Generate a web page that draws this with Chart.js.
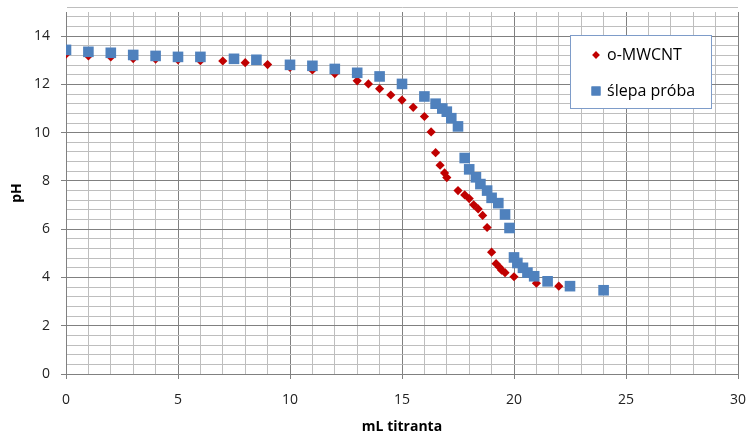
<!DOCTYPE html>
<html>
<head>
<meta charset="utf-8">
<script src="https://cdn.jsdelivr.net/npm/chart.js@4/dist/chart.umd.min.js"></script>
<style>
  html, body { margin: 0; padding: 0; background: #fff; }
  #wrap { position: relative; width: 749px; height: 434px; }
</style>
</head>
<body>
<div id="wrap"><canvas id="Titration-Chart"></canvas></div>
<script>
//-------------------------------------------------- Data
const seriesNames = ["o-MWCNT", "ślepa próba"];
const mwcntX = [0, 1, 2, 3, 4, 5, 6, 7, 8, 9, 10, 11, 12, 13, 13.5, 14, 14.5, 15, 15.5, 16, 16.3, 16.5, 16.7, 16.9, 17, 17.5, 17.8, 18, 18.2, 18.4, 18.6, 18.8, 19, 19.2, 19.35, 19.45, 19.6, 20, 21, 22];
const mwcntPH = [13.25, 13.18, 13.14, 13.07, 13.05, 13.02, 12.98, 12.97, 12.9, 12.82, 12.7, 12.6, 12.45, 12.15, 12.02, 11.82, 11.56, 11.35, 11.05, 10.67, 10.03, 9.17, 8.65, 8.33, 8.14, 7.6, 7.42, 7.27, 7.01, 6.84, 6.57, 6.07, 5.05, 4.57, 4.42, 4.3, 4.2, 4.03, 3.76, 3.64];
const blankX = [0, 1, 2, 3, 4, 5, 6, 7.5, 8.5, 10, 11, 12, 13, 14, 15, 16, 16.5, 16.8, 17, 17.2, 17.5, 17.8, 18, 18.3, 18.5, 18.8, 19, 19.3, 19.6, 19.8, 20, 20.15, 20.4, 20.6, 20.9, 21.5, 22.5, 24];
const blankPH = [13.43, 13.35, 13.31, 13.22, 13.18, 13.14, 13.14, 13.06, 13.02, 12.81, 12.77, 12.64, 12.48, 12.33, 12.02, 11.5, 11.2, 11.0, 10.87, 10.6, 10.26, 8.95, 8.48, 8.15, 7.87, 7.6, 7.3, 7.08, 6.61, 6.05, 4.83, 4.6, 4.4, 4.2, 4.05, 3.84, 3.64, 3.47];
const xTitle = "mL titranta";
const yTitle = "pH";
//^^^^^^^^^^^^^^^^^^^^^^^^^^^^^^^^^^^^^^^^^^^^^^^^^^ Data

const FONT = "'Open Sans', 'DejaVu Sans', sans-serif";
const MAJOR = "#808080";
const MINOR = "#bebebe";

const toPoints = (xs, ys) => xs.map((x, i) => ({x: x, y: ys[i]}));
const isMajor = (v, step) => Math.abs(v / step - Math.round(v / step)) < 1e-6;

// legend box drawn inside the plot like the spreadsheet one
const boxLegend = {
	id: "boxLegend",
	afterDraw(chart) {
		const ctx = chart.ctx;
		const left = 570, top = 35, w = 141, h = 73;
		ctx.save();
		ctx.fillStyle = "#fff";
		ctx.fillRect(left, top, w, h);
		ctx.strokeStyle = "#7e9cc9";
		ctx.lineWidth = 1;
		ctx.strokeRect(left + 0.5, top + 0.5, w, h);
		ctx.font = "16px " + FONT;
		ctx.textBaseline = "middle";
		chart.data.datasets.forEach((ds, i) => {
			const y = top + 20 + i * 36;
			ctx.fillStyle = ds.backgroundColor;
			ctx.beginPath();
			Chart.helpers.drawPoint(ctx, {pointStyle: ds.pointStyle, radius: ds.pointRadius * (ds.pointStyle == "rect" ? 0.85 : 0.8), borderWidth: 0}, 596, y);
			ctx.fill();
			ctx.fillStyle = "#000";
			ctx.fillText(ds.label, 607, y);
		});
		ctx.restore();
	}
};

function buildTicks(max, step) {
	let out = [];
	const n = Math.round(max / step);
	for (let i = 0; i <= n; i++) out.push({value: Math.round(i * step * 100) / 100});
	if (out[out.length - 1].value < max) out.push({value: max});
	return out;
}

// fixed box sizes, no extra label padding so the plot lands where the original one is
function fixBox(s, size) {
	if (s.isHorizontal()) s.height = size; else s.width = size;
	s.paddingTop = 0; s.paddingBottom = 0; s.paddingLeft = 0; s.paddingRight = 0;
}

new Chart(document.getElementById("Titration-Chart").getContext("2d"), {
	type: "scatter",
	data: {
		datasets: [
			{
				label: seriesNames[0],
				data: toPoints(mwcntX, mwcntPH),
				pointStyle: "rectRot",
				pointRadius: 4.6,
				backgroundColor: "#c00000",
				borderColor: "#c00000",
				borderWidth: 0,
				order: 1
			},
			{
				label: seriesNames[1],
				data: toPoints(blankX, blankPH),
				pointStyle: "rect",
				pointRadius: 7.5,
				backgroundColor: "#4f81bd",
				borderColor: "#4f81bd",
				borderWidth: 0,
				order: 0
			}
		]
	},
	options: {
		responsive: true,
		maintainAspectRatio: false,
		animation: false,
		layout: {padding: {left: 0, top: 12, right: 11, bottom: 0}},
		plugins: {legend: {display: false}, tooltip: {enabled: false}},
		scales: {
			x: {
				type: "linear",
				min: 0,
				max: 30,
				afterBuildTicks: s => { s.ticks = buildTicks(30, 1); },
				afterFit: s => fixBox(s, 60),
				grid: {
					color: c => isMajor(c.tick.value, 5) ? MAJOR : MINOR,
					tickColor: c => isMajor(c.tick.value, 5) ? MAJOR : "rgba(0,0,0,0)",
					tickLength: 5,
					lineWidth: 1
				},
				border: {color: MAJOR},
				ticks: {
					autoSkip: false,
					maxRotation: 0,
					padding: 13,
					color: "#222",
					font: {family: FONT, size: 14},
					callback: v => isMajor(v, 5) ? String(v) : ""
				},
				title: {
					display: true,
					text: xTitle,
					color: "#000",
					font: {family: FONT, size: 14, weight: "bold", lineHeight: 1},
					padding: {top: 0, bottom: 0}
				}
			},
			y: {
				type: "linear",
				min: 0,
				max: 15,
				afterBuildTicks: s => { s.ticks = buildTicks(15, 0.4); },
				afterFit: s => fixBox(s, 66),
				grid: {
					color: c => isMajor(c.tick.value, 2) ? MAJOR : MINOR,
					tickColor: c => isMajor(c.tick.value, 2) ? MAJOR : "rgba(0,0,0,0)",
					tickLength: 5,
					lineWidth: 1
				},
				border: {color: MAJOR},
				ticks: {
					autoSkip: false,
					padding: 11,
					color: "#222",
					font: {family: FONT, size: 14},
					callback: v => isMajor(v, 2) ? String(Math.round(v)) : ""
				},
				title: {
					display: true,
					text: yTitle,
					color: "#000",
					font: {family: FONT, size: 14, weight: "bold", lineHeight: 1},
					padding: {top: 10, bottom: 0}
				}
			}
		}
	},
	plugins: [boxLegend]
});
</script>
</body>
</html>
